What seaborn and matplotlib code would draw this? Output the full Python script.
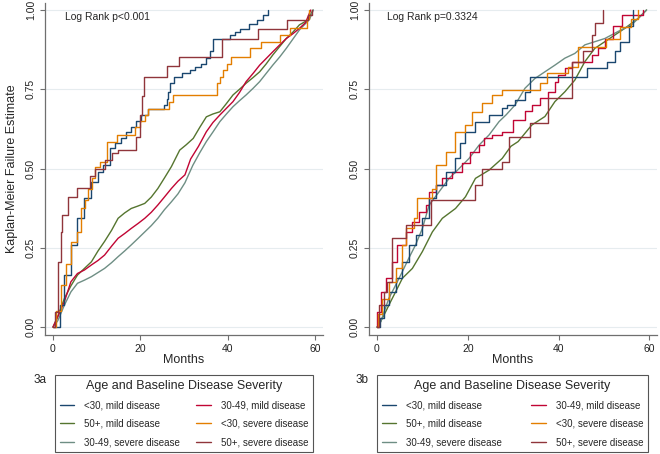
import pandas as pd
import seaborn as sns
import matplotlib.pyplot as plt
from matplotlib.lines import Line2D

# groups / colours (Stata s2color style)
groups = ["<30, mild disease", "30-49, mild disease", "50+, mild disease",
          "<30, severe disease", "30-49, severe disease", "50+, severe disease"]
colors = ["#1a476f", "#c10534", "#55752f", "#e37e00", "#6e8e84", "#90353b"]

# ---- panel 3a ----
a_t_m30_mild = [0, 1.5, 2.6, 4.1, 5.6, 7.2, 8.8, 10.2, 11.4, 13.0, 14.3, 15.6, 16.8, 17.9, 19.1, 20.2, 21.7,
                25.5, 26.0, 26.4, 26.8, 27.6, 29.5, 31.3, 32.5, 33.8, 35.0, 36.0, 36.7, 40.5, 41.7, 42.8,
                44.8, 46.6, 48.0, 49.3]
a_f_m30_mild = [0, 0.069, 0.164, 0.26, 0.343, 0.406, 0.458, 0.49, 0.511, 0.565, 0.58, 0.596, 0.615, 0.632, 0.65,
                0.669, 0.688, 0.70, 0.72, 0.74, 0.77, 0.79, 0.80, 0.81, 0.82, 0.83, 0.848, 0.87, 0.91, 0.92,
                0.93, 0.94, 0.955, 0.968, 0.984, 1.0]

a_t_3049_mild = [0, 1.0, 2.6, 4.1, 5.6, 7.2, 8.8, 10.3, 11.8, 13.4, 14.9, 16.4, 17.9, 19.5, 21.0, 22.5, 24.0,
                 25.5, 27.1, 28.6, 30.2, 31.5, 33.3, 35.1, 36.6, 38.2, 39.7, 41.2, 42.7, 44.2, 45.8, 47.3,
                 48.8, 50.3, 51.9, 53.4, 54.9, 56.4, 57.8, 59.0]
a_f_3049_mild = [0, 0.03, 0.08, 0.143, 0.169, 0.18, 0.196, 0.21, 0.227, 0.255, 0.28, 0.295, 0.311, 0.327,
                 0.343, 0.362, 0.385, 0.41, 0.437, 0.46, 0.48, 0.53, 0.57, 0.616, 0.645, 0.669, 0.69, 0.711,
                 0.74, 0.774, 0.80, 0.826, 0.847, 0.868, 0.89, 0.91, 0.925, 0.942, 0.96, 1.0]

a_t_50_mild = [0, 1.0, 2.6, 4.1, 5.6, 7.2, 8.8, 10.3, 11.8, 13.4, 14.9, 16.4, 17.9, 19.5, 21.0, 22.5, 24.0,
               25.5, 27.1, 29.0, 30.5, 32.1, 33.6, 35.1, 36.6, 38.2, 39.7, 41.2, 42.7, 44.2, 45.8, 47.3,
               48.8, 50.3, 51.9, 53.4, 54.9, 56.4, 58.3, 59.5]
a_f_50_mild = [0, 0.03, 0.09, 0.13, 0.164, 0.185, 0.206, 0.24, 0.27, 0.305, 0.343, 0.36, 0.374, 0.382, 0.39,
               0.41, 0.437, 0.47, 0.506, 0.558, 0.575, 0.595, 0.63, 0.663, 0.672, 0.679, 0.705, 0.732, 0.75,
               0.769, 0.787, 0.805, 0.83, 0.858, 0.885, 0.91, 0.93, 0.953, 0.968, 1.0]

a_t_m30_sev = [0, 0.8, 1.9, 3.0, 4.1, 5.4, 6.5, 7.3, 8.1, 9.0, 9.6, 10.8, 12.4, 14.6, 18.8, 19.8, 21.0, 21.7,
               26.5, 27.5, 37.5, 38.2, 38.9, 39.8, 40.7, 45.0, 47.5, 52.0, 54.3, 58.2, 58.6]
a_f_m30_sev = [0, 0.05, 0.132, 0.20, 0.267, 0.30, 0.374, 0.40, 0.437, 0.47, 0.506, 0.52, 0.585, 0.606, 0.63,
               0.65, 0.669, 0.688, 0.71, 0.732, 0.77, 0.79, 0.81, 0.83, 0.853, 0.879, 0.90, 0.92, 0.942,
               0.97, 1.0]

a_t_3049_sev = [0, 1.1, 2.6, 4.1, 5.6, 7.2, 8.8, 10.3, 11.8, 13.4, 14.9, 16.4, 17.9, 19.5, 21.0, 22.5, 24.0,
                25.5, 27.1, 28.6, 30.2, 32.0, 33.6, 35.1, 36.6, 38.2, 39.7, 41.2, 42.7, 44.2, 45.8, 47.3,
                48.8, 50.3, 51.9, 53.4, 54.9, 56.4, 58.7, 59.6]
a_f_3049_sev = [0, 0.02, 0.069, 0.111, 0.138, 0.148, 0.159, 0.172, 0.185, 0.203, 0.222, 0.24, 0.259, 0.28,
                0.30, 0.32, 0.343, 0.37, 0.395, 0.42, 0.455, 0.51, 0.55, 0.585, 0.615, 0.648, 0.672, 0.695,
                0.714, 0.732, 0.753, 0.774, 0.80, 0.826, 0.852, 0.879, 0.908, 0.937, 0.97, 1.0]

a_t_50_sev = [0, 0.45, 1.1, 1.8, 2.0, 3.5, 5.4, 8.5, 9.6, 11.9, 13.4, 14.9, 19.1, 19.8, 20.4, 20.9, 26.0,
              28.9, 38.6, 47.0, 53.5, 58.4, 59.3]
a_f_50_sev = [0, 0.048, 0.206, 0.30, 0.353, 0.411, 0.44, 0.475, 0.50, 0.527, 0.548, 0.558, 0.60, 0.67, 0.73,
              0.79, 0.824, 0.853, 0.91, 0.94, 0.968, 0.985, 1.0]

# ---- panel 3b ----
b_t_m30_mild = [0, 0.6, 1.5, 2.6, 4.1, 5.6, 7.0, 8.5, 10.0, 11.5, 12.9, 15.1, 17.3, 18.4, 19.5, 21.7, 24.7,
                27.6, 28.7, 30.4, 32.6, 33.7, 46.2, 50.6, 52.4, 53.5, 55.5, 56.5]
b_f_m30_mild = [0, 0.03, 0.069, 0.111, 0.154, 0.206, 0.259, 0.29, 0.343, 0.406, 0.448, 0.49, 0.532, 0.58,
                0.616, 0.648, 0.669, 0.69, 0.70, 0.716, 0.74, 0.79, 0.816, 0.837, 0.87, 0.90, 0.95, 1.0]

b_t_3049_mild = [0, 0.1, 0.8, 1.9, 3.4, 4.5, 6.3, 7.8, 9.3, 10.7, 11.5, 12.9, 14.4, 16.6, 18.8, 20.6, 22.5,
                 23.6, 25.4, 27.6, 30.0, 32.6, 34.1, 35.9, 37.7, 39.2, 39.9, 41.4, 42.9, 47.3, 48.8, 50.2,
                 52.0, 53.9, 58.6]
b_f_3049_mild = [0, 0.048, 0.111, 0.154, 0.206, 0.26, 0.30, 0.332, 0.364, 0.385, 0.427, 0.448, 0.469, 0.49,
                 0.516, 0.553, 0.574, 0.595, 0.606, 0.616, 0.653, 0.68, 0.70, 0.721, 0.742, 0.774, 0.795,
                 0.816, 0.837, 0.858, 0.88, 0.91, 0.95, 0.984, 1.0]

b_t_50_mild = [0, 0.4, 1.9, 3.0, 4.1, 5.6, 7.8, 10.0, 12.2, 14.4, 17.3, 19.5, 21.7, 24.7, 27.6, 29.5, 31.1,
               34.1, 37.0, 39.2, 41.4, 43.6, 45.8, 48.0, 50.2, 52.4, 54.6, 57.6, 59.4]
b_f_50_mild = [0, 0.006, 0.048, 0.08, 0.111, 0.154, 0.185, 0.238, 0.30, 0.343, 0.374, 0.411, 0.469, 0.495,
               0.532, 0.57, 0.585, 0.637, 0.664, 0.711, 0.742, 0.779, 0.837, 0.879, 0.90, 0.921, 0.942,
               0.974, 1.0]

b_t_m30_sev = [0, 0.2, 1.2, 2.6, 4.1, 5.6, 6.3, 8.1, 8.9, 12.2, 12.9, 15.1, 17.3, 19.5, 21.0, 23.2, 25.4,
               27.6, 36.0, 37.5, 42.0, 44.2, 50.5, 53.5, 56.0, 57.5]
b_f_m30_sev = [0, 0.04, 0.09, 0.143, 0.185, 0.259, 0.311, 0.343, 0.406, 0.437, 0.511, 0.553, 0.616, 0.637,
               0.679, 0.706, 0.732, 0.748, 0.77, 0.80, 0.82, 0.884, 0.91, 0.947, 0.97, 1.0]

b_t_3049_sev = [0, 0.8, 2.6, 4.1, 5.6, 7.0, 8.5, 10.0, 11.5, 13.7, 15.9, 18.1, 20.3, 22.5, 24.7, 26.9, 28.5,
                30.4, 32.6, 34.8, 37.0, 39.2, 41.4, 43.6, 45.8, 48.0, 50.2, 53.1, 56.1, 58.3, 59.4]
b_f_3049_sev = [0, 0.016, 0.09, 0.132, 0.175, 0.217, 0.259, 0.311, 0.385, 0.427, 0.469, 0.50, 0.532, 0.574,
                0.606, 0.648, 0.67, 0.70, 0.753, 0.784, 0.805, 0.826, 0.848, 0.863, 0.89, 0.90, 0.91,
                0.932, 0.953, 0.984, 1.0]

b_t_50_sev = [0, 0.4, 1.5, 2.3, 3.4, 6.3, 11.8, 21.7, 23.2, 27.6, 29.0, 33.7, 37.7, 42.9, 45.5, 47.3, 48.0, 49.8]
b_f_50_sev = [0, 0.069, 0.111, 0.143, 0.28, 0.322, 0.40, 0.448, 0.50, 0.52, 0.60, 0.643, 0.721, 0.837, 0.87,
              0.921, 0.958, 1.0]

panel_a = [(a_t_m30_mild, a_f_m30_mild), (a_t_3049_mild, a_f_3049_mild), (a_t_50_mild, a_f_50_mild),
           (a_t_m30_sev, a_f_m30_sev), (a_t_3049_sev, a_f_3049_sev), (a_t_50_sev, a_f_50_sev)]
panel_b = [(b_t_m30_mild, b_f_m30_mild), (b_t_3049_mild, b_f_3049_mild), (b_t_50_mild, b_f_50_mild),
           (b_t_m30_sev, b_f_m30_sev), (b_t_3049_sev, b_f_3049_sev), (b_t_50_sev, b_f_50_sev)]

rows = []
for panel, series in (("3a", panel_a), ("3b", panel_b)):
    for g, (t, f) in zip(groups, series):
        for ti, fi in zip(t, f):
            rows.append((panel, g, ti, fi))
df = pd.DataFrame(rows, columns=["panel", "group", "month", "failure"])

# big groups have many tiny steps -> draw as plain line
fine = {"3a": {"30-49, mild disease", "50+, mild disease", "30-49, severe disease"},
        "3b": {"50+, mild disease", "30-49, severe disease"}}

sns.set_style("white")
plt.rcParams['font.family'] = ['Liberation Sans', 'DejaVu Sans']

fig = plt.figure(figsize=(6.6, 4.54), dpi=100)
ax_a = fig.add_axes([45 / 660, 1 - 335 / 454, 278 / 660, 332 / 454])
ax_b = fig.add_axes([369 / 660, 1 - 335 / 454, 288 / 660, 332 / 454])

draw_order = [2, 4, 1, 0, 3, 5]
for ax, panel in ((ax_a, "3a"), (ax_b, "3b")):
    for i in draw_order:
        g = groups[i]
        sub = df[(df.panel == panel) & (df.group == g)]
        sns.lineplot(data=sub, x="month", y="failure", color=colors[i], ax=ax,
                     estimator=None, sort=False, linewidth=1.0,
                     drawstyle="default" if g in fine[panel] else "steps-post")
    ax.set_ylim(-0.025, 1.022)
    ax.set_xticks([0, 20, 40, 60])
    ax.set_yticks([0, 0.25, 0.5, 0.75, 1.0])
    ax.set_yticklabels(["0.00", "0.25", "0.50", "0.75", "1.00"])
    ax.grid(axis="y", color="#e6ecef", linewidth=0.8)
    ax.set_axisbelow(True)
    for s in ("top", "right"):
        ax.spines[s].set_visible(False)
    for s in ("left", "bottom"):
        ax.spines[s].set_color("#6f6f6f")
        ax.spines[s].set_linewidth(0.9)
    ax.tick_params(axis="both", length=3.5, width=0.8, color="#6f6f6f", labelsize=7.5,
                   labelcolor="#222222", left=True, bottom=True)
    ax.tick_params(axis="y", labelrotation=90, pad=3)
    ax.tick_params(axis="x", pad=3)
    for lab in ax.get_yticklabels():
        lab.set_va("center")
    ax.set_xlabel("Months", fontsize=9)
    ax.xaxis.set_label_coords(0.5, -0.058)

ax_a.set_xlim(-1.83, 61.8)
ax_b.set_xlim(-1.76, 61.7)
ax_a.set_ylabel("Kaplan-Meier Failure Estimate", fontsize=9)
ax_a.yaxis.set_label_coords(-0.098, 0.5)
ax_b.set_ylabel("")

ax_a.text(0.072, 0.958, "Log Rank p<0.001", transform=ax_a.transAxes, fontsize=7.5, va="center")
ax_b.text(0.061, 0.958, "Log Rank p=0.3324", transform=ax_b.transAxes, fontsize=7.5, va="center")

# legends: row-wise order in two columns
leg_idx = [0, 2, 4, 1, 3, 5]
handles = [Line2D([0], [0], color=colors[i], lw=1.0) for i in leg_idx]
labels = [groups[i] for i in leg_idx]
for x0, w, tag, tx in ((50 / 660, 268 / 660, "3a", 40 / 660), (372 / 660, 281 / 660, "3b", 362 / 660)):
    leg = fig.legend(handles, labels, ncol=2, loc="upper left", mode="expand",
                     bbox_to_anchor=(x0, 1 - 371 / 454, w, 0.001), bbox_transform=fig.transFigure,
                     title="Age and Baseline Disease Severity", title_fontsize=9, fontsize=7,
                     frameon=True, fancybox=False, edgecolor="#555555", framealpha=1,
                     handlelength=1.5, handletextpad=1.0, labelspacing=0.85, borderpad=0.5,
                     columnspacing=2.0)
    leg.get_frame().set_linewidth(0.8)
    fig.text(tx, 1 - 380 / 454, tag, fontsize=8.5, ha="center", va="center")

plt.savefig("out.png", dpi=100)
